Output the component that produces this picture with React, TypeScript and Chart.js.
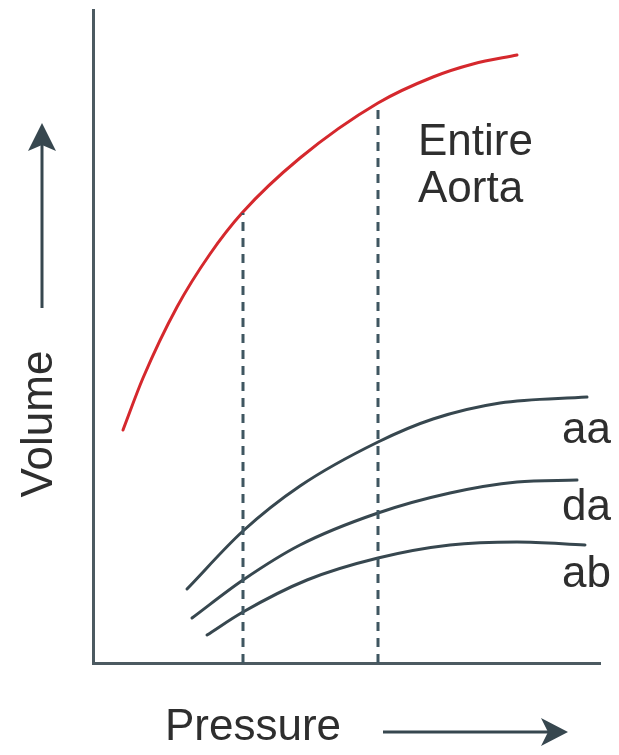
import React, { useEffect, useRef } from "react";
import { Chart, registerables } from "chart.js";

Chart.register(...registerables);

// Axis ranges (arbitrary pressure / volume units)
const pressureMax = 507;
const volumeMax = 653;

// Entire aorta curve
const entirePressure = [30, 50, 84, 117, 149, 207, 285, 340, 380, 424];
const entireVolume = [233, 285, 356, 409, 450, 505, 560, 586, 599, 608];

// Ascending aorta (aa)
const aaPressure = [94, 150, 207, 285, 340, 407, 494];
const aaVolume = [74, 132, 177, 221, 244, 260, 266];

// Descending aorta (da)
const daPressure = [99, 150, 207, 285, 357, 424, 484];
const daVolume = [45, 83, 118, 150, 170, 181, 183];

// Abdominal aorta (ab)
const abPressure = [114, 150, 214, 285, 357, 424, 492];
const abVolume = [28, 51, 83, 105, 118, 121, 118];

// Reference pressures (dashed verticals) and where they meet the red curve
const refPressures = [150, 285];
const refVolumeTop = [450, 560];

// Curve labels: [text, pressure, volume]
const labelTexts = ["Entire", "Aorta", "aa", "da", "ab"];
const labelPressure = [325, 325, 469, 469, 469];
const labelVolume = [508, 461, 220, 143, 76];

const xTitle = "Pressure";
const yTitle = "Volume";

const RED = "#d5282d";
const DARK = "#37474f";
const DASH = "#3f5661";
const AXIS = "#4c5a61";
const TEXT = "#2e2e2e";
const FONT = '44px "Liberation Sans", Arial, Helvetica, sans-serif';

const toPts = (xs: number[], ys: number[]) => xs.map((x, i) => ({ x, y: ys[i] }));

const annotate = {
  id: "annotate",
  afterDraw(chart: any) {
    const ctx = chart.ctx as CanvasRenderingContext2D;
    const xs = chart.scales.x;
    const ys = chart.scales.y;
    const area = chart.chartArea;
    ctx.save();
    ctx.font = FONT;
    ctx.fillStyle = TEXT;
    ctx.textBaseline = "alphabetic";
    ctx.textAlign = "left";
    labelTexts.forEach((t, i) => {
      ctx.fillText(t, xs.getPixelForValue(labelPressure[i]), ys.getPixelForValue(labelVolume[i]));
    });

    // Y axis title with upward arrow
    const yx = area.left - 41;
    ctx.save();
    ctx.translate(yx, 424);
    ctx.rotate(-Math.PI / 2);
    ctx.textAlign = "center";
    ctx.fillText(yTitle, 0, 0);
    ctx.restore();

    ctx.strokeStyle = DARK;
    ctx.fillStyle = DARK;
    ctx.lineWidth = 3;
    const ax = area.left - 51;
    ctx.beginPath();
    ctx.moveTo(ax, 308);
    ctx.lineTo(ax, 145);
    ctx.stroke();
    ctx.beginPath();
    ctx.moveTo(ax, 123);
    ctx.lineTo(ax + 14, 151);
    ctx.lineTo(ax, 145);
    ctx.lineTo(ax - 14, 151);
    ctx.closePath();
    ctx.fill();

    // X axis title with right arrow
    ctx.fillStyle = TEXT;
    ctx.textAlign = "left";
    ctx.fillText(xTitle, 165, area.bottom + 77);
    ctx.fillStyle = DARK;
    const ay = area.bottom + 69;
    ctx.beginPath();
    ctx.moveTo(383, ay);
    ctx.lineTo(548, ay);
    ctx.stroke();
    ctx.beginPath();
    ctx.moveTo(568, ay);
    ctx.lineTo(541, ay - 14);
    ctx.lineTo(548, ay);
    ctx.lineTo(541, ay + 14);
    ctx.closePath();
    ctx.fill();
    ctx.restore();
  },
};

export default function App() {
  const ref = useRef<HTMLCanvasElement | null>(null);
  useEffect(() => {
    if (!ref.current) return;
    const lineDs = (xs: number[], ys: number[], color: string) => ({
      data: toPts(xs, ys),
      borderColor: color,
      borderWidth: 3,
      pointRadius: 0,
      showLine: true,
      cubicInterpolationMode: "monotone" as const,
      borderCapStyle: "round" as const,
      fill: false,
      clip: false as any,
    });
    const dashed = refPressures.map((p, i) => ({
      data: [
        { x: p, y: 0 },
        { x: p, y: refVolumeTop[i] },
      ],
      borderColor: DASH,
      borderWidth: 3,
      borderDash: [9, 7],
      pointRadius: 0,
      showLine: true,
      fill: false,
    }));
    const chart = new Chart(ref.current, {
      type: "scatter",
      data: {
        datasets: [
          ...dashed,
          lineDs(entirePressure, entireVolume, RED),
          lineDs(aaPressure, aaVolume, DARK),
          lineDs(daPressure, daVolume, DARK),
          lineDs(abPressure, abVolume, DARK),
        ] as any,
      },
      options: {
        animation: false,
        responsive: false,
        maintainAspectRatio: false,
        layout: { padding: { left: 93, right: 19, top: 10, bottom: 92 } },
        plugins: { legend: { display: false }, tooltip: { enabled: false } },
        scales: {
          x: {
            type: "linear",
            min: 0,
            max: pressureMax,
            grid: { display: false, drawTicks: false },
            ticks: { display: false },
            border: { display: true, color: AXIS, width: 3 },
          },
          y: {
            type: "linear",
            min: 0,
            max: volumeMax,
            grid: { display: false, drawTicks: false },
            ticks: { display: false },
            border: { display: true, color: AXIS, width: 3 },
          },
        },
      },
      plugins: [annotate],
    });
    return () => chart.destroy();
  }, []);
  return (
    <div style={{ position: "absolute", left: 0, top: 0, width: 619, height: 755, background: "#fff" }}>
      <canvas ref={ref} width={619} height={755} style={{ display: "block" }} />
    </div>
  );
}
